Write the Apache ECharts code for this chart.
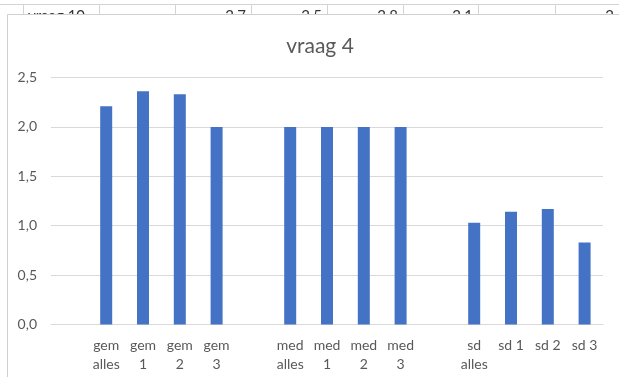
<!DOCTYPE html>
<html>
<head>
<meta charset="utf-8">
<script src="https://cdn.jsdelivr.net/npm/echarts@6/dist/echarts.min.js"></script>
<style>
  html, body { margin: 0; padding: 0; background: #fff; }
  #chart { width: 619px; height: 377px; }
</style>
</head>
<body>
<div id="chart"></div>
<script>
// Category slots; empty strings are the spacer columns between groups
const categories = ['', 'gem\nalles', 'gem\n1', 'gem\n2', 'gem\n3', ' ', 'med\nalles', 'med\n1', 'med\n2', 'med\n3', '  ', 'sd\nalles', 'sd 1', 'sd 2', 'sd 3'];
const gemValues = [2.21, 2.36, 2.33, 2.0];
const medValues = [2.0, 2.0, 2.0, 2.0];
const sdValues = [1.03, 1.14, 1.17, 0.83];
const yTicks = [0, 0.5, 1.0, 1.5, 2.0, 2.5];

// Spreadsheet row peeking out above the chart frame
const sheetRowLabel = 'vraag 10';
const sheetRowValues = ['2,7', '2,5', '2,8', '2,1', '2'];

const barValues = [null].concat(gemValues, [null], medValues, [null], sdValues);

const FONT = 'Lato, "Liberation Sans", sans-serif';
const TEXT = '#595959';
const GRID = '#d9d9d9';

// Sheet gridlines and cell text (behind the chart frame)
const colEdges = [23, 99, 175, 251, 327, 403, 478, 555];
const valueRightEdges = [246, 322, 398, 473, 614];
const sheetGraphics = [];
sheetGraphics.push({
  type: 'line', z: -30, silent: true,
  shape: { x1: 0, y1: 4.5, x2: 619, y2: 4.5 },
  style: { stroke: '#d4d4d4', lineWidth: 1 }
});
colEdges.forEach(function (x) {
  sheetGraphics.push({
    type: 'line', z: -30, silent: true,
    shape: { x1: x + 0.5, y1: 4, x2: x + 0.5, y2: 14 },
    style: { stroke: '#d4d4d4', lineWidth: 1 }
  });
});
sheetGraphics.push({
  type: 'text', z: -25, silent: true, x: 28, y: 9,
  style: { text: sheetRowLabel, font: '15px ' + FONT, fill: '#333', textVerticalAlign: 'top' }
});
sheetRowValues.forEach(function (t, i) {
  sheetGraphics.push({
    type: 'text', z: -25, silent: true, x: valueRightEdges[i], y: 9,
    style: { text: t, font: '15px ' + FONT, fill: '#333', textAlign: 'right', textVerticalAlign: 'top' }
  });
});
// Chart frame
sheetGraphics.push({
  type: 'rect', z: -20, silent: true,
  shape: { x: 7.5, y: 14.5, width: 700, height: 400 },
  style: { fill: '#fff', stroke: '#d0d0d0', lineWidth: 1 }
});

const chart = echarts.init(document.getElementById('chart'), null, { renderer: 'canvas' });
chart.setOption({
  animation: false,
  backgroundColor: '#fff',
  graphic: { elements: sheetGraphics },
  title: {
    text: 'vraag 4',
    left: 315, top: 31, textAlign: 'center',
    textStyle: { fontFamily: FONT, fontSize: 21, fontWeight: 'normal', color: TEXT }
  },
  grid: { left: 51, right: 16, top: 77.5, bottom: 52.5 },
  xAxis: {
    type: 'category',
    data: categories,
    axisLine: { show: true, lineStyle: { color: GRID, width: 1 } },
    axisTick: { show: false },
    axisLabel: {
      interval: 0, margin: 11,
      fontFamily: FONT, fontSize: 14, color: TEXT, lineHeight: 19
    },
    splitLine: { show: false }
  },
  yAxis: {
    type: 'value',
    min: yTicks[0], max: yTicks[yTicks.length - 1], interval: 0.5,
    axisLine: { show: false },
    axisTick: { show: false },
    axisLabel: {
      margin: 14, fontFamily: FONT, fontSize: 14, color: TEXT,
      formatter: function (v) { return v.toFixed(1).replace('.', ','); }
    },
    splitLine: { lineStyle: { color: GRID, width: 1 } }
  },
  series: [{
    type: 'bar',
    data: barValues,
    barWidth: 12,
    itemStyle: { color: '#4472c4' }
  }]
});
</script>
</body>
</html>
